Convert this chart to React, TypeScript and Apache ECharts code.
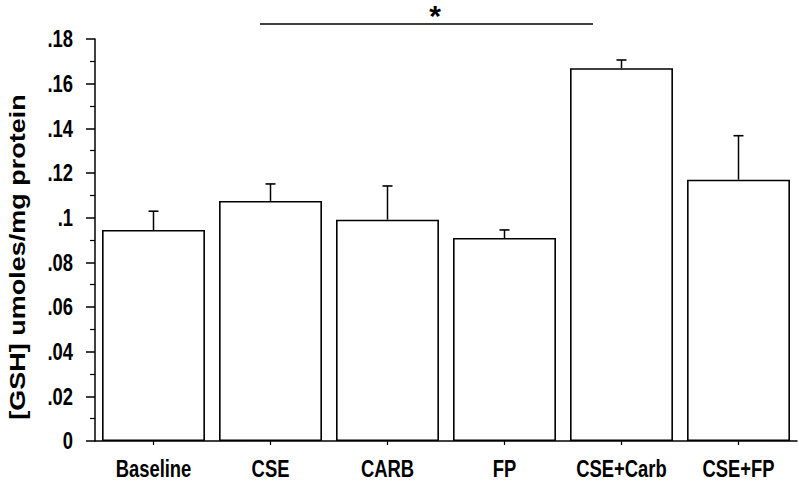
import React, { useEffect, useRef } from "react";
import * as echarts from "echarts";

const categories = ["Baseline", "CSE", "CARB", "FP", "CSE+Carb", "CSE+FP"];
const means = [0.0945, 0.1075, 0.0991, 0.0909, 0.1669, 0.117];
const sem = [0.0084, 0.0076, 0.0151, 0.0036, 0.0037, 0.0197];
const yTickValues = [0, 0.02, 0.04, 0.06, 0.08, 0.1, 0.12, 0.14, 0.16, 0.18];
const yTitle = "[GSH] umoles/mg protein";
const sigMark = "*";

const FONT = "'Liberation Sans', Arial, Helvetica, sans-serif";
const SQUEEZE = 0.8;

function fmt(v: number): string {
  if (Math.abs(v) < 1e-9) return "0";
  let s = v.toFixed(2);
  s = s.replace(/^0/, "");
  s = s.replace(/0$/, "");
  return s;
}

export default function App() {
  const ref = useRef<HTMLDivElement>(null);
  useEffect(() => {
    if (!ref.current) return;
    const chart = echarts.init(ref.current, undefined, { renderer: "svg" });
    const errData = means.map((m, i) => [i, m, m + sem[i]]);
    const yMin = yTickValues[0];
    const yMax = yTickValues[yTickValues.length - 1];
    const yInterval = yTickValues[1] - yTickValues[0];
    chart.setOption({
      animation: false,
      backgroundColor: "#ffffff",
      grid: { left: 95, right: 2, top: 39, bottom: 40, containLabel: false },
      xAxis: {
        type: "category",
        data: categories,
        boundaryGap: true,
        axisLine: { show: true, lineStyle: { color: "#000", width: 1.5 } },
        axisTick: { show: true, alignWithLabel: true, length: 4, lineStyle: { color: "#000", width: 1.2 } },
        axisLabel: { show: false },
        splitLine: { show: false },
      },
      yAxis: {
        type: "value",
        min: yMin,
        max: yMax,
        interval: yInterval,
        axisLine: { show: true, lineStyle: { color: "#000", width: 1.5 } },
        axisTick: { show: true, length: 9, lineStyle: { color: "#000", width: 1.5 } },
        minorTick: { show: true, splitNumber: 2, length: 5, lineStyle: { color: "#000", width: 1.2 } },
        axisLabel: { show: false },
        splitLine: { show: false },
      },
      series: [
        {
          type: "bar",
          data: means,
          barWidth: "88%",
          itemStyle: { color: "#fff", borderColor: "#000", borderWidth: 1.6 },
          z: 2,
        },
        {
          type: "custom",
          data: errData,
          z: 3,
          renderItem: (params: any, api: any) => {
            const x = api.value(0);
            const lo = api.coord([x, api.value(1)]);
            const hi = api.coord([x, api.value(2)]);
            const cap = 5;
            return {
              type: "group",
              children: [
                {
                  type: "line",
                  shape: { x1: lo[0], y1: lo[1], x2: hi[0], y2: hi[1] },
                  style: { stroke: "#000", lineWidth: 1.5 },
                },
                {
                  type: "line",
                  shape: { x1: hi[0] - cap, y1: hi[1], x2: hi[0] + cap, y2: hi[1] },
                  style: { stroke: "#000", lineWidth: 1.6 },
                },
              ],
            };
          },
        },
      ],
    });

    const xAxisY = chart.convertToPixel({ yAxisIndex: 0 }, yMin) as number;
    const yAxisX = chart.convertToPixel({ xAxisIndex: 0 }, 0) as number;
    const catW = (chart.convertToPixel({ xAxisIndex: 0 }, 1) as number) - yAxisX;
    const axisLeft = yAxisX - catW / 2;

    const xLabelEls = categories.map((c, i) => ({
      type: "text",
      x: chart.convertToPixel({ xAxisIndex: 0 }, i) as number,
      y: xAxisY + 16,
      scaleX: SQUEEZE,
      style: { text: c, fill: "#000", font: `bold 23px ${FONT}`, textAlign: "center", textVerticalAlign: "top" },
    }));
    const yLabelEls = yTickValues.map((v) => ({
      type: "text",
      x: axisLeft - 22,
      y: chart.convertToPixel({ yAxisIndex: 0 }, v) as number,
      scaleX: SQUEEZE,
      style: { text: fmt(v), fill: "#000", font: `bold 23px ${FONT}`, textAlign: "right", textVerticalAlign: "middle" },
    }));

    chart.setOption({
      graphic: [
        {
          type: "text",
          x: 17,
          y: 257,
          rotation: Math.PI / 2,
          scaleY: 0.8,
          style: {
            text: yTitle,
            fill: "#000",
            font: `bold 27px ${FONT}`,
            textAlign: "center",
            textVerticalAlign: "middle",
          },
        },
        {
          type: "line",
          shape: { x1: 260, y1: 24, x2: 593, y2: 24 },
          style: { stroke: "#000", lineWidth: 1.6 },
        },
        {
          type: "text",
          x: 435,
          y: 0,
          style: {
            text: sigMark,
            fill: "#000",
            font: `bold 30px ${FONT}`,
            textAlign: "center",
            textVerticalAlign: "top",
          },
        },
        ...xLabelEls,
        ...yLabelEls,
      ],
    });
    return () => chart.dispose();
  }, []);
  return <div ref={ref} style={{ width: 799, height: 481, position: "absolute", left: 0, top: 0 }} />;
}
